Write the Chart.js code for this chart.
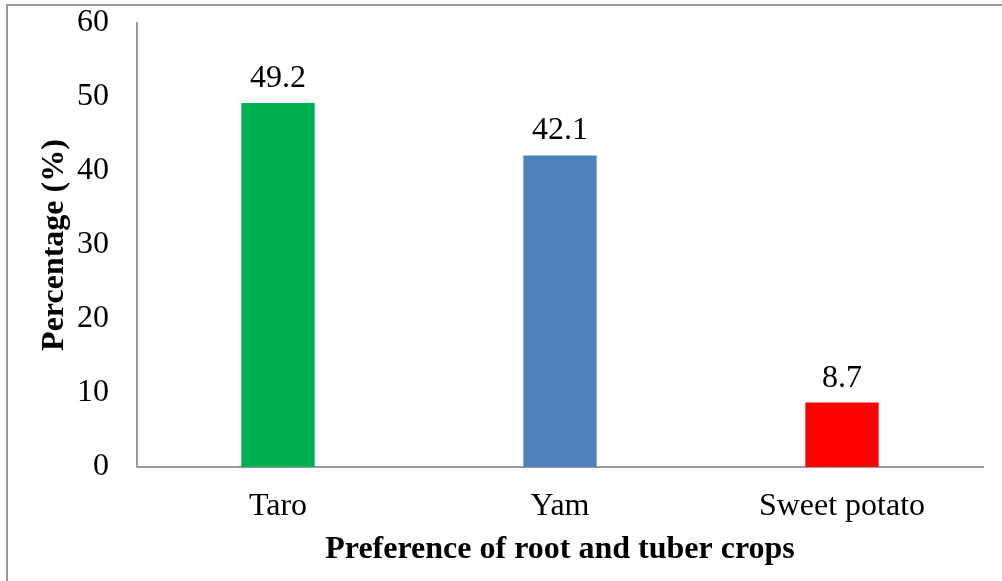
<!DOCTYPE html>
<html>
<head>
<meta charset="utf-8">
<script src="https://cdn.jsdelivr.net/npm/chart.js@4/dist/chart.umd.min.js"></script>
<style>
  html, body { margin: 0; padding: 0; background: #fff; }
  #wrap { position: relative; width: 1002px; height: 581px; }
</style>
</head>
<body>
<div id="wrap"><canvas id="c" width="1002" height="581"></canvas></div>
<script>
// Crop preference shares (percent of respondents)
const categories = ['Taro', 'Yam', 'Sweet potato'];
const percentages = [49.2, 42.1, 8.7];
const barColors = ['#00B050', '#4F81BD', '#FF0000'];
const yTicks = [0, 10, 20, 30, 40, 50, 60];

const serif = '"Liberation Serif", "Times New Roman", serif';
const axisGrey = '#9a9a9a';
const fontSize = 32;

// Frame line along the top and left edges of the figure
const framePlugin = {
  id: 'frame',
  beforeDraw(chart) {
    const ctx = chart.ctx;
    ctx.save();
    ctx.strokeStyle = axisGrey;
    ctx.lineWidth = 2;
    ctx.beginPath();
    ctx.moveTo(7, chart.height + 2);
    ctx.lineTo(7, 5);
    ctx.lineTo(chart.width + 2, 5);
    ctx.stroke();
    ctx.restore();
  }
};

// Value labels above each bar
const valueLabels = {
  id: 'valueLabels',
  afterDatasetsDraw(chart) {
    const ctx = chart.ctx;
    const meta = chart.getDatasetMeta(0);
    ctx.save();
    ctx.font = fontSize + 'px ' + serif;
    ctx.fillStyle = '#000';
    ctx.textAlign = 'center';
    ctx.textBaseline = 'alphabetic';
    meta.data.forEach((bar, i) => {
      ctx.fillText(percentages[i].toFixed(1), bar.x, bar.y - 16);
    });
    ctx.restore();
  }
};

new Chart(document.getElementById('c'), {
  type: 'bar',
  data: {
    labels: categories,
    datasets: [{
      data: percentages,
      backgroundColor: barColors,
      borderWidth: 0,
      categoryPercentage: 1,
      barPercentage: 0.26
    }]
  },
  options: {
    responsive: false,
    animation: false,
    devicePixelRatio: 1,
    layout: { padding: { left: 0, top: 23, right: 19, bottom: 0 } },
    plugins: { legend: { display: false }, tooltip: { enabled: false } },
    scales: {
      x: {
        grid: { display: false, drawTicks: false },
        border: { display: true, color: axisGrey, width: 2 },
        ticks: { color: '#000', font: { family: serif, size: fontSize }, padding: 20 },
        title: {
          display: true,
          text: 'Preference of root and tuber crops',
          color: '#000',
          font: { family: serif, size: fontSize, weight: 'bold' },
          padding: { top: 0, bottom: 12 }
        },
        afterFit(scale) { scale.height = 114; }
      },
      y: {
        min: 0,
        max: 60,
        grid: { display: false, drawTicks: false },
        border: { display: true, color: axisGrey, width: 2 },
        afterBuildTicks(scale) { scale.ticks = yTicks.map(v => ({ value: v })); },
        ticks: { color: '#000', font: { family: serif, size: fontSize }, padding: 28 },
        title: {
          display: true,
          text: 'Percentage (%)',
          color: '#000',
          font: { family: serif, size: fontSize, weight: 'bold' },
          padding: { top: 36, bottom: 0 }
        },
        afterFit(scale) {
          scale.width = 137;
          scale.paddingTop = 0;
          scale.paddingBottom = 0;
        }
      }
    }
  },
  plugins: [framePlugin, valueLabels]
});
</script>
</body>
</html>
